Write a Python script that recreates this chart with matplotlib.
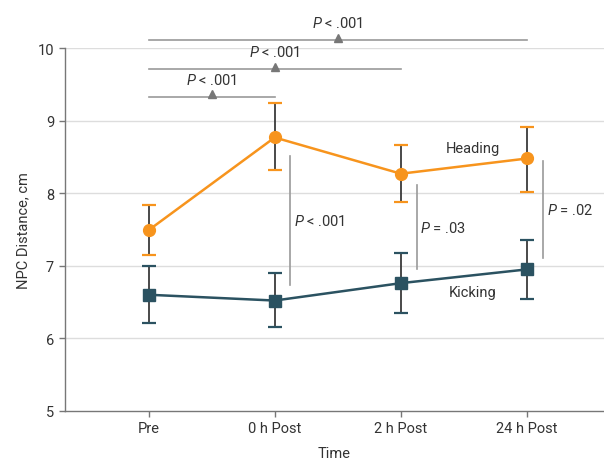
import matplotlib
matplotlib.use("Agg")
import matplotlib.pyplot as plt

plt.rcParams['font.family'] = ['Roboto', 'DejaVu Sans']
plt.rcParams['mathtext.fontset'] = 'custom'
plt.rcParams['mathtext.it'] = 'Roboto:italic'
plt.rcParams['mathtext.rm'] = 'Roboto'

times = ["Pre", "0 h Post", "2 h Post", "24 h Post"]
heading_mean = [7.49, 8.77, 8.27, 8.48]
heading_upper = [7.84, 9.24, 8.67, 8.92]
heading_lower = [7.15, 8.32, 7.88, 8.02]
kicking_mean = [6.60, 6.52, 6.76, 6.95]
kicking_upper = [7.00, 6.90, 7.18, 7.35]
kicking_lower = [6.21, 6.15, 6.35, 6.54]

# within-series comparisons vs Pre (end index, bracket y, label)
top_brackets = [(3, 10.11, "< .001"), (2, 9.71, "< .001"), (1, 9.33, "< .001")]
# between-group comparisons (x index, y top, y bottom, label)
group_p = [(1, 8.52, 6.73, "< .001"), (2, 8.11, 6.95, "= .03"), (3, 8.44, 7.11, "= .02")]

ORANGE = "#F7941D"
TEAL = "#2B5261"
TXT = "#333333"
GRAY = "#9a9a9a"

fig = plt.figure(figsize=(6.04, 4.64), dpi=100)
ax = fig.add_axes([0.1068, 0.1127, 0.8932, 0.7810])
x = list(range(len(times)))

ax.set_ylim(5, 10)
ax.set_xlim(-0.666, 3.61)
ax.set_yticks([5, 6, 7, 8, 9, 10])
ax.set_xticks(x)
ax.set_xticklabels(times)
for yv in [6, 7, 8, 9, 10]:
    ax.axhline(yv, color="#dddddd", lw=1, zorder=0)

for s in ["top", "right"]:
    ax.spines[s].set_visible(False)
for s in ["left", "bottom"]:
    ax.spines[s].set_color("#777777")
    ax.spines[s].set_linewidth(1)
ax.tick_params(colors="#777777", labelcolor=TXT, labelsize=10.5, length=4, width=1)

# error bars
ax.vlines(x, heading_lower, heading_upper, color="#3a3a3a", lw=1.3, zorder=2)
ax.vlines(x, kicking_lower, kicking_upper, color="#3a3a3a", lw=1.3, zorder=2)
for lo, hi, c in [(heading_lower, heading_upper, ORANGE), (kicking_lower, kicking_upper, TEAL)]:
    ax.plot(x, lo, ls="none", marker="_", ms=10, mew=1.6, color=c, zorder=3)
    ax.plot(x, hi, ls="none", marker="_", ms=10, mew=1.6, color=c, zorder=3)

ax.plot(x, heading_mean, color=ORANGE, lw=1.8, marker="o", ms=8.5, zorder=4)
ax.plot(x, kicking_mean, color=TEAL, lw=1.8, marker="s", ms=8.5, zorder=4)

ax.text(2.57, 8.62, "Heading", ha="center", va="center", fontsize=10.5, color=TXT)
ax.text(2.57, 6.64, "Kicking", ha="center", va="center", fontsize=10.5, color=TXT)

# top brackets
for end, yb, lab in top_brackets:
    ax.plot([0, end], [yb, yb], color=GRAY, lw=1.2, clip_on=False, zorder=1)
    mid = end / 2.0
    ax.plot([mid], [yb + 0.035], marker="^", ms=6, color="#777777", clip_on=False, zorder=2)
    ax.text(mid, yb + 0.24, r"$P$ " + lab, ha="center", va="center", fontsize=10.5,
            color=TXT, clip_on=False)

# between-group lines
for xi, yt, yb, lab in group_p:
    xl = xi + 0.125
    ax.plot([xl, xl], [yb, yt], color=GRAY, lw=1.2, zorder=1)
    ax.text(xl + 0.03, (yt + yb) / 2, r"$P$ " + lab, ha="left", va="center",
            fontsize=10.5, color=TXT)

ax.set_ylabel("NPC Distance, cm", fontsize=10.5, color=TXT, labelpad=5)
ax.set_xlabel("Time", fontsize=10.5, color=TXT, labelpad=8)

fig.savefig("out.png", dpi=100)
